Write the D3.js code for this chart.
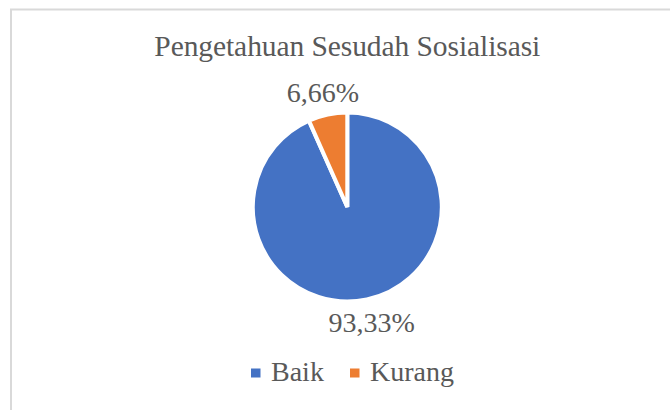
<!DOCTYPE html>
<html>
<head>
<meta charset="utf-8">
<script src="https://cdn.jsdelivr.net/npm/d3@7"></script>
<style>
  html, body { margin: 0; padding: 0; background: #ffffff; }
  svg { display: block; }
  svg text { font-family: "Liberation Serif", "Times New Roman", Times, serif; }
</style>
</head>
<body>
<svg id="chart" width="670" height="410"></svg>
<script>
// ---- data ----
const title = "Pengetahuan Sesudah Sosialisasi";
const categories = ["Baik", "Kurang"];
const values = [93.33, 6.66];
const colors = ["#4472C4", "#ED7D31"];

// ---- layout ----
const W = 670, H = 410;
const cx = 347.3, cy = 207, R = 94.5;
const textColor = "#595959";

const svg = d3.select("#chart");

// chart border (frame is cut by the image at right/bottom)
svg.append("path")
  .attr("d", `M11,${H + 5} L11,9.5 L${W + 5},9.5`)
  .attr("fill", "none")
  .attr("stroke", "#d9d9d9")
  .attr("stroke-width", 2);

// title
svg.append("text")
  .attr("x", cx)
  .attr("y", 55.5)
  .attr("text-anchor", "middle")
  .attr("fill", textColor)
  .attr("textLength", 386)
  .attr("lengthAdjust", "spacing")
  .style("font-size", "29.5px")
  .text(title);

// pie
const data = categories.map((c, i) => ({ cat: c, value: values[i], color: colors[i] }));
const pie = d3.pie().value(d => d.value).sort(null);
const arcs = pie(data);
const arc = d3.arc().innerRadius(0).outerRadius(R);
const labelR = 117.5;

const g = svg.append("g").attr("transform", `translate(${cx},${cy})`);
g.selectAll("path.slice")
  .data(arcs)
  .join("path")
  .attr("class", "slice")
  .attr("d", arc)
  .attr("fill", d => d.data.color)
  .attr("stroke", "#ffffff")
  .attr("stroke-width", 4)
  .attr("stroke-linejoin", "bevel");

const fmt = v => v.toFixed(2).replace(".", ",") + "%";
g.selectAll("text.lbl")
  .data(arcs)
  .join("text")
  .attr("class", "lbl")
  .attr("x", d => Math.sin((d.startAngle + d.endAngle) / 2) * labelR)
  .attr("y", d => -Math.cos((d.startAngle + d.endAngle) / 2) * labelR)
  .attr("dy", "0.35em")
  .attr("text-anchor", "middle")
  .attr("fill", textColor)
  .style("font-size", "28px")
  .text(d => fmt(d.data.value));

// legend
const legendX = [251, 350];
const leg = svg.append("g");
const items = leg.selectAll("g.item")
  .data(data)
  .join("g")
  .attr("class", "item")
  .attr("transform", (d, i) => `translate(${legendX[i]},0)`);
items.append("rect")
  .attr("x", 0).attr("y", 368.5)
  .attr("width", 9.5).attr("height", 9)
  .attr("fill", d => d.color);
items.append("text")
  .attr("x", 20)
  .attr("y", 381)
  .attr("fill", textColor)
  .style("font-size", "28px")
  .text(d => d.cat);
</script>
</body>
</html>
